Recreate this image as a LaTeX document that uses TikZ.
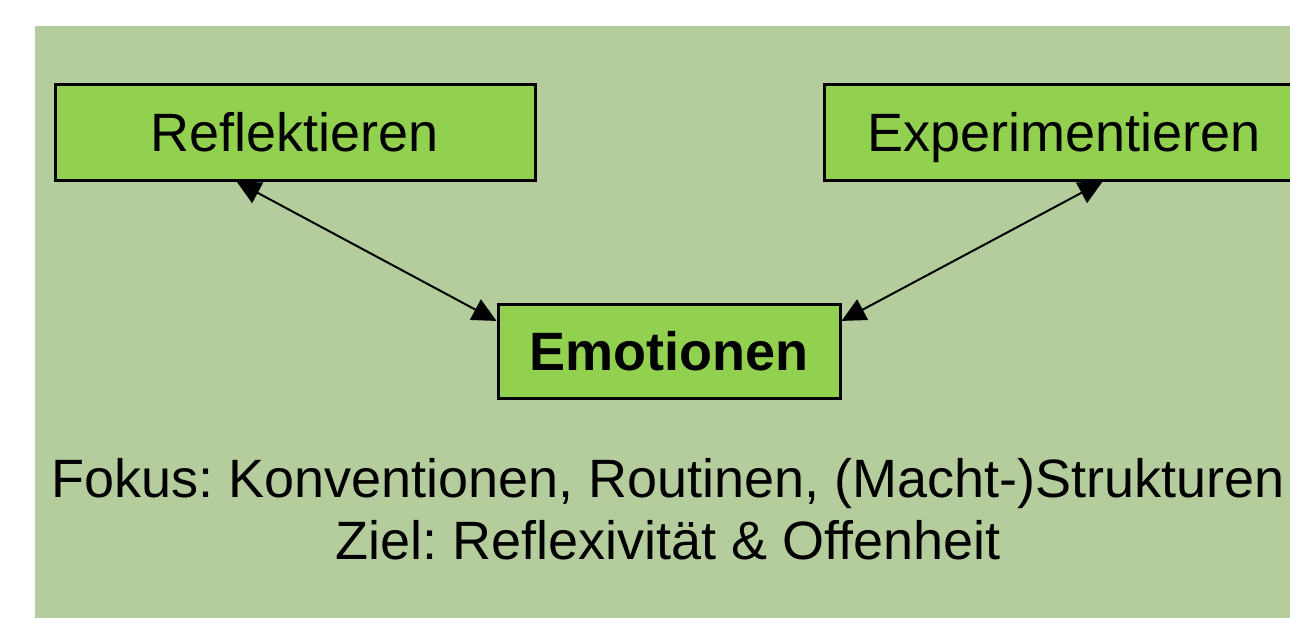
\documentclass[tikz,border=0pt]{standalone}
\usepackage{fontspec}
\setmainfont{Liberation Sans}
\usetikzlibrary{arrows.meta,calc}
\definecolor{panelgreen}{HTML}{B5CD9C}
\definecolor{boxgreen}{HTML}{92D050}
\frenchspacing
\tikzset{
  greenbox/.style={draw=black, line width=3pt, fill=boxgreen, inner sep=0pt,
    minimum width=#1, minimum height=96pt, text height=38.7pt, text depth=0pt,
    font=\fontsize{54}{62}\selectfont},
  bigtext/.style={anchor=base, inner sep=0pt, font=\fontsize{54}{62}\selectfont},
  link/.style={line width=2pt, {Triangle[length=24pt,width=23pt]}-{Triangle[length=24pt,width=23pt]}}
}
\begin{document}
\begin{tikzpicture}[x=1pt,y=-1pt]
\useasboundingbox (0,0) rectangle (1290,618);
\clip (0,0) rectangle (1290,618);
\fill[white] (0,0) rectangle (1290,618);
\fill[panelgreen] (35,26) rectangle (1300,630);
\node[greenbox=480pt] (refl) at (295,132) {Reflektieren};
\node[greenbox=480pt] (exp) at (1064,132) {Experimentieren};
\node[greenbox=342pt, minimum height=94pt] (emo) at (669,351) {\bfseries Emotionen};
\coordinate (rt) at ($(refl.south west)!0.379!(refl.south east)$);
\coordinate (el) at ($(emo.north west)!0.19!(emo.south west)$);
\coordinate (et) at ($(exp.south west)!0.58!(exp.south east)$);
\coordinate (er) at ($(emo.north east)!0.19!(emo.south east)$);
\draw[link] (rt) -- (el);
\draw[link] (et) -- (er);
\node[bigtext] (fokus) at (668,497) {Fokus: Konventionen, Routinen, (Macht-)Strukturen};
\node[bigtext] (ziel) at (668,559) {Ziel: Reflexivität \& Offenheit};
\end{tikzpicture}
\end{document}
